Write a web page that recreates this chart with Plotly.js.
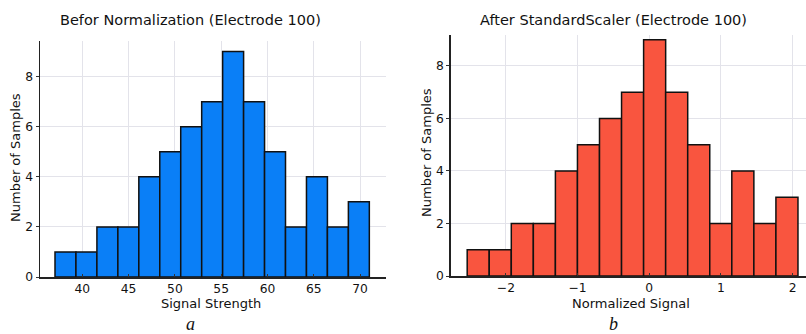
<!DOCTYPE html>
<html>
<head>
<meta charset="utf-8">
<script src="https://cdn.plot.ly/plotly-3.0.1.min.js"></script>
<style>html,body{margin:0;padding:0;background:#fff;}#chart{width:806px;height:334px;}</style>
</head>
<body>
<div id="chart"></div>
<script>
// Data
const countsBefore = [1, 1, 2, 2, 4, 5, 6, 7, 9, 7, 5, 2, 4, 2, 3];
const binStartBefore = 37.05;
const binEndBefore = 71.0;
const countsAfter = [1, 1, 2, 2, 4, 5, 6, 7, 9, 7, 5, 2, 4, 2, 3];
const binStartAfter = -2.54;
const binEndAfter = 2.074;
const xTicksBefore = [40, 45, 50, 55, 60, 65, 70];
const xTicksAfter = [-2, -1, 0, 1, 2];
const yTicks = [0, 2, 4, 6, 8];

function centers(start, end, n) {
  const w = (end - start) / n;
  return {w: w, c: Array.from({length: n}, (_, i) => start + w * (i + 0.5))};
}
const bA = centers(binStartBefore, binEndBefore, countsBefore.length);
const bB = centers(binStartAfter, binEndAfter, countsAfter.length);

const W = 806, H = 334;
const fam = 'DejaVu Sans, Verdana, sans-serif';
const font = {family: fam, color: '#111', size: 12};

const traces = [
  {type: 'bar', x: bA.c, y: countsBefore, width: bA.w, xaxis: 'x', yaxis: 'y',
   marker: {color: '#0A7FF7', line: {color: '#111', width: 1.5}}, hoverinfo: 'x+y'},
  {type: 'bar', x: bB.c, y: countsAfter, width: bB.w, xaxis: 'x2', yaxis: 'y2',
   marker: {color: '#F9553F', line: {color: '#111', width: 1.5}}, hoverinfo: 'x+y'}
];

const axCommon = {
  showgrid: true, gridcolor: '#E3E3EA', gridwidth: 1, zeroline: false,
  showline: true, linecolor: '#222', linewidth: 1.5, mirror: false,
  tickfont: {family: fam, size: 12.3, color: '#111'}
};

function ann(text, x, y, size, extra) {
  return Object.assign({text: text, xref: 'paper', yref: 'paper', x: x / W, y: 1 - y / H,
    showarrow: false, xanchor: 'center', yanchor: 'middle', font: {family: fam, size: size, color: '#111'}}, extra || {});
}

const layout = {
  width: W, height: H,
  margin: {l: 0, r: 0, t: 0, b: 0},
  paper_bgcolor: '#fff', plot_bgcolor: '#fff',
  showlegend: false, bargap: 0,
  font: font,
  xaxis: Object.assign({}, axCommon, {domain: [40 / W, 386 / W], anchor: 'y', range: [35.43, 72.8],
    tickvals: xTicksBefore, ticks: 'inside', ticklen: 3, tickcolor: '#333'}),
  yaxis: Object.assign({}, axCommon, {domain: [1 - 277 / H, 1 - 41 / H], anchor: 'x', range: [0, 9.42],
    tickvals: yTicks, ticks: 'outside', ticklen: 3, tickcolor: '#333'}),
  xaxis2: Object.assign({}, axCommon, {domain: [450.7 / W, 1], anchor: 'y2', range: [-2.77, 2.186],
    tickvals: xTicksAfter, ticks: 'inside', ticklen: 3, tickcolor: '#333'}),
  yaxis2: Object.assign({}, axCommon, {domain: [1 - 276 / H, 1 - 35 / H], anchor: 'x2', range: [0, 9.18],
    tickvals: yTicks, ticks: 'outside', ticklen: 3, tickcolor: '#333'}),
  annotations: [
    ann('Befor Normalization (Electrode 100)', 190, 20, 14.5),
    ann('After StandardScaler (Electrode 100)', 613, 20, 14.5),
    ann('Signal Strength', 211, 303, 13),
    ann('Normalized Signal', 631, 303, 13),
    ann('Number of Samples', 15, 158, 13, {textangle: -90}),
    ann('Number of Samples', 426, 153, 13, {textangle: -90}),
    ann('<i>a</i>', 190, 324, 18, {font: {family: 'Liberation Serif, Times New Roman, serif', size: 18, color: '#111'}}),
    ann('<i>b</i>', 613, 324, 18, {font: {family: 'Liberation Serif, Times New Roman, serif', size: 18, color: '#111'}})
  ]
};

Plotly.newPlot('chart', traces, layout, {displayModeBar: false, staticPlot: true});
</script>
</body>
</html>
